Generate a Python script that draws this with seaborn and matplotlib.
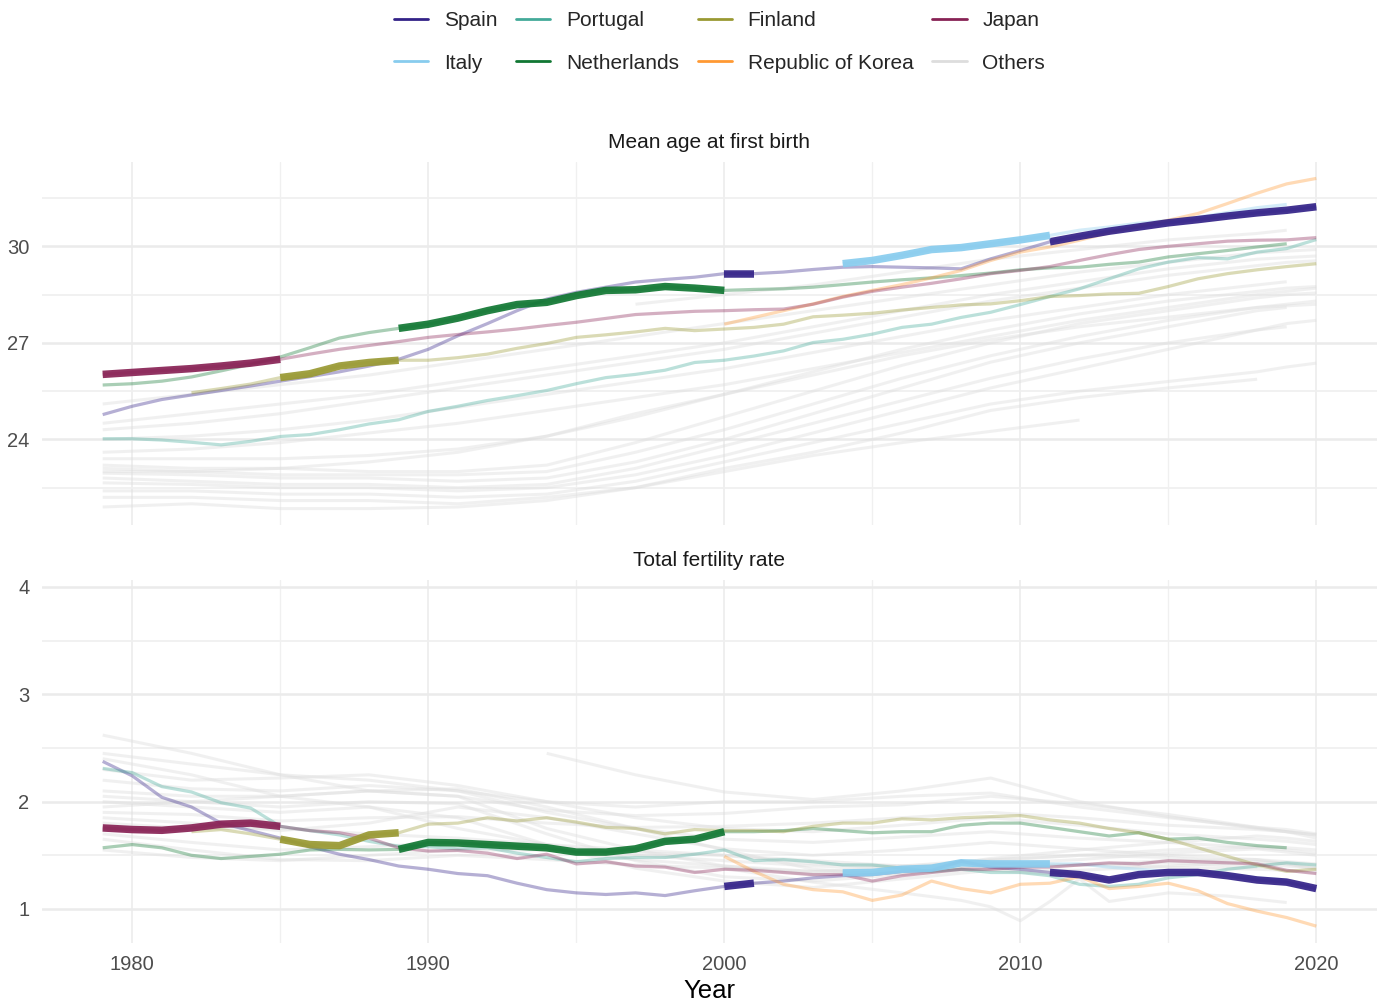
import numpy as np
import pandas as pd
import matplotlib
matplotlib.use("Agg")
import matplotlib.pyplot as plt
from matplotlib.lines import Line2D
import seaborn as sns

nan = np.nan

# ---------------------------------------------------------------- data
YEARS = list(range(1979, 2021))

SPAIN_AGE = [24.77, 25.03, 25.24, 25.38, 25.52, 25.66, 25.81, 25.95, 26.10, 26.28,
             26.49, 26.80, 27.22, 27.60, 28.00, 28.36, 28.57, 28.73, 28.89, 28.97,
             29.04, 29.15, 29.15, 29.20, 29.28, 29.35, 29.37, 29.35, 29.33, 29.30,
             29.61, 29.87, 30.14, 30.31, 30.47, 30.60, 30.73, 30.83, 30.94, 31.04,
             31.12, 31.23]
SPAIN_TFR = [2.375, 2.24, 2.04, 1.95, 1.80, 1.73, 1.66, 1.58, 1.51, 1.46,
             1.40, 1.37, 1.33, 1.31, 1.24, 1.18, 1.15, 1.135, 1.15, 1.125,
             1.17, 1.21, 1.24, 1.26, 1.29, 1.31, 1.32, 1.35, 1.36, 1.445,
             1.39, 1.37, 1.34, 1.32, 1.27, 1.32, 1.34, 1.34, 1.31, 1.27,
             1.25, 1.19]

JAPAN_AGE = [26.02, 26.08, 26.14, 26.20, 26.28, 26.37, 26.49, 26.65, 26.80, 26.92,
             27.04, 27.17, 27.26, 27.34, 27.43, 27.54, 27.64, 27.76, 27.88, 27.93,
             27.98, 28.00, 28.03, 28.05, 28.20, 28.42, 28.60, 28.73, 28.85, 28.99,
             29.15, 29.25, 29.37, 29.56, 29.74, 29.90, 30.00, 30.08, 30.16, 30.19,
             30.20, 30.27]
JAPAN_TFR = [1.755, 1.74, 1.733, 1.755, 1.79, 1.80, 1.77, 1.73, 1.71, 1.66,
             1.57, 1.54, 1.545, 1.52, 1.47, 1.51, 1.42, 1.44, 1.40, 1.39,
             1.34, 1.37, 1.36, 1.34, 1.32, 1.32, 1.26, 1.31, 1.34, 1.37,
             1.37, 1.39, 1.39, 1.41, 1.43, 1.42, 1.45, 1.44, 1.43, 1.42,
             1.36, 1.33]

NETHERLANDS_AGE = [25.69, 25.73, 25.81, 25.94, 26.13, 26.33, 26.56, 26.85, 27.15, 27.32,
                   27.45, 27.58, 27.77, 28.00, 28.19, 28.26, 28.47, 28.63, 28.65, 28.75,
                   28.70, 28.63, 28.66, 28.68, 28.73, 28.81, 28.89, 28.96, 29.02, 29.09,
                   29.17, 29.27, 29.33, 29.35, 29.44, 29.51, 29.67, 29.77, 29.87, 29.98,
                   30.08, nan]
NETHERLANDS_TFR = [1.57, 1.60, 1.57, 1.50, 1.47, 1.49, 1.51, 1.55, 1.555, 1.55,
                   1.555, 1.62, 1.615, 1.60, 1.585, 1.57, 1.53, 1.53, 1.56, 1.63,
                   1.65, 1.72, 1.72, 1.73, 1.75, 1.73, 1.71, 1.72, 1.72, 1.78,
                   1.80, 1.80, 1.76, 1.72, 1.68, 1.71, 1.65, 1.66, 1.62, 1.59,
                   1.57, nan]

FINLAND_AGE = [nan, nan, nan, 25.45, 25.58, 25.72, 25.92, 26.04, 26.28, 26.39,
               26.46, 26.46, 26.54, 26.65, 26.83, 26.98, 27.17, 27.25, 27.34, 27.45,
               27.38, 27.43, 27.48, 27.58, 27.81, 27.86, 27.92, 28.02, 28.10, 28.18,
               28.21, 28.31, 28.44, 28.47, 28.52, 28.54, 28.75, 28.99, 29.15, 29.27,
               29.37, 29.46]
FINLAND_TFR = [nan, nan, nan, 1.72, 1.74, 1.70, 1.65, 1.60, 1.59, 1.69,
               1.71, 1.79, 1.80, 1.85, 1.82, 1.85, 1.81, 1.76, 1.75, 1.70,
               1.74, 1.73, 1.73, 1.72, 1.77, 1.80, 1.80, 1.84, 1.83, 1.85,
               1.86, 1.87, 1.83, 1.80, 1.75, 1.71, 1.65, 1.57, 1.49, 1.41,
               1.35, 1.37]

PORTUGAL_AGE = [24.02, 24.02, 23.98, 23.91, 23.83, 23.94, 24.09, 24.15, 24.30, 24.48,
                24.61, 24.87, 25.03, 25.21, 25.36, 25.52, 25.73, 25.92, 26.02, 26.15,
                26.39, 26.46, 26.59, 26.75, 27.01, 27.11, 27.27, 27.48, 27.58, 27.79,
                27.95, 28.19, 28.44, 28.68, 28.99, 29.30, 29.51, 29.65, 29.61, 29.82,
                29.93, 30.21]
PORTUGAL_TFR = [2.31, 2.27, 2.14, 2.09, 1.99, 1.94, 1.77, 1.73, 1.69, 1.63,
                1.585, 1.58, 1.56, 1.57, 1.52, 1.48, 1.44, 1.47, 1.48, 1.48,
                1.51, 1.55, 1.45, 1.46, 1.44, 1.41, 1.41, 1.38, 1.35, 1.37,
                1.34, 1.34, 1.31, 1.23, 1.21, 1.23, 1.29, 1.32, 1.37, 1.40,
                1.43, 1.41]

ITALY_AGE = [nan] * 25 + [29.46, 29.56, 29.72, 29.90, 29.96, 30.08, 30.20, 30.34,
                          30.50, 30.60, 30.72, 30.80, 30.90, 31.05, 31.20, 31.30, nan]
ITALY_TFR = [nan] * 25 + [1.336, 1.34, 1.37, 1.38, 1.43, 1.42, 1.42, 1.42,
                          1.42, 1.39, 1.37, 1.35, 1.34, 1.32, 1.29, 1.27, nan]

KOREA_AGE = [nan] * 21 + [27.58, 27.79, 28.00, 28.21, 28.44, 28.63, 28.81, 29.02, 29.25,
                          29.56, 29.82, 29.98, 30.19, 30.42, 30.63, 30.81, 31.02, 31.33,
                          31.65, 31.94, 32.11]
KOREA_TFR = [nan] * 21 + [1.49, 1.35, 1.23, 1.18, 1.16, 1.08, 1.13, 1.26, 1.19,
                          1.15, 1.23, 1.24, 1.30, 1.19, 1.21, 1.24, 1.17, 1.05,
                          0.98, 0.92, 0.84]

# country -> (mean age at first birth, total fertility rate)
HIGHLIGHT = {
    "Spain": (SPAIN_AGE, SPAIN_TFR),
    "Italy": (ITALY_AGE, ITALY_TFR),
    "Portugal": (PORTUGAL_AGE, PORTUGAL_TFR),
    "Netherlands": (NETHERLANDS_AGE, NETHERLANDS_TFR),
    "Finland": (FINLAND_AGE, FINLAND_TFR),
    "Republic of Korea": (KOREA_AGE, KOREA_TFR),
    "Japan": (JAPAN_AGE, JAPAN_TFR),
}

# years in which a country held the highest mean age at first birth
RECORD_SPANS = [("Japan", 1979, 1985), ("Finland", 1985, 1989),
                ("Netherlands", 1989, 2000), ("Spain", 2000, 2001),
                ("Italy", 2004, 2011), ("Spain", 2011, 2020)]

# remaining countries, sampled every few years
OTHER_YEARS = [1979, 1982, 1985, 1988, 1991, 1994, 1997, 2000, 2003, 2006,
               2009, 2012, 2015, 2018, 2019, 2020]

OTHERS_AGE = [
    [nan, nan, nan, nan, nan, nan, 28.2, 28.5, 28.8, 29.2, 29.6, 29.9, 30.2, 30.4, 30.5, nan],
    [25.1, 25.4, 25.7, 26.0, 26.4, 26.8, 27.2, 27.6, 28.0, 28.4, 28.8, 29.2, 29.5, 29.8, 29.85, 29.9],
    [24.5, 24.8, 25.1, 25.4, 25.8, 26.2, 26.6, 27.0, 27.5, 28.0, 28.5, 28.9, 29.3, 29.6, 29.65, 29.7],
    [24.3, 24.5, 24.8, 25.2, 25.6, 26.0, 26.4, 26.8, 27.3, 27.8, 28.3, 28.7, 29.1, 29.4, 29.5, 29.55],
    [24.0, 24.1, 24.3, 24.6, 25.0, 25.4, 25.8, 26.2, 26.7, 27.2, 27.7, 28.1, 28.5, 28.8, 28.9, nan],
    [23.6, 23.7, 23.9, 24.2, 24.5, 24.9, 25.3, 25.7, 26.2, 26.7, 27.2, 27.7, 28.1, 28.5, 28.6, 28.7],
    [23.4, 23.4, 23.4, 23.5, 23.7, 24.1, 24.8, 25.4, 26.1, 26.8, 27.4, 27.9, 28.3, 28.6, 28.7, 28.75],
    [23.2, 23.1, 23.1, 23.0, 23.0, 23.2, 23.9, 24.7, 25.5, 26.3, 27.0, 27.6, 28.0, 28.4, 28.5, 28.55],
    [23.1, 23.0, 22.9, 22.9, 22.9, 23.0, 23.6, 24.3, 25.1, 25.9, 26.6, 27.2, 27.7, 28.1, 28.15, 28.2],
    [22.95, 22.9, 22.8, 22.8, 22.7, 22.8, 23.3, 24.0, 24.8, 25.6, 26.4, 27.0, 27.5, 28.0, 28.1, nan],
    [22.8, 22.7, 22.6, 22.6, 22.5, 22.6, 23.1, 23.8, 24.5, 25.2, 25.9, 26.5, 27.0, 27.4, 27.5, nan],
    [22.65, 22.6, 22.5, 22.5, 22.4, 22.5, 22.9, 23.5, 24.2, 24.9, 25.6, 26.2, 26.8, 27.4, 27.6, 27.7],
    [22.4, 22.4, 22.3, 22.3, 22.2, 22.3, 22.7, 23.3, 23.9, 24.5, 25.1, 25.5, 25.8, 26.1, 26.25, 26.37],
    [22.2, 22.2, 22.1, 22.1, 22.0, 22.2, 22.5, 23.1, 23.6, 24.2, 24.9, 25.3, 25.6, 25.87, nan, nan],
    [21.9, 22.0, 21.85, 21.85, 21.9, 22.1, 22.5, 23.0, 23.5, 23.9, 24.25, 24.6, nan, nan, nan, nan],
    [23.0, 23.0, 23.1, 23.3, 23.6, 24.1, 24.7, 25.4, 26.0, 26.6, 27.1, 27.5, 27.8, 28.1, 28.2, 28.3],
]

OTHERS_TFR = [
    [nan, nan, nan, nan, nan, 2.45, 2.25, 2.09, 2.02, 2.10, 2.22, 2.00, 1.86, 1.75, 1.72, 1.69],
    [2.62, 2.45, 2.25, 2.10, 2.05, 1.92, 1.87, 1.89, 1.95, 1.97, 2.05, 1.98, 1.88, 1.76, 1.72, 1.66],
    [2.45, 2.35, 2.25, 2.20, 2.10, 2.00, 1.95, 2.00, 2.00, 2.05, 2.08, 1.95, 1.85, 1.76, 1.74, 1.70],
    [2.30, 2.20, 2.22, 2.25, 2.15, 2.00, 1.85, 1.75, 1.72, 1.78, 1.85, 1.78, 1.70, 1.65, 1.63, 1.60],
    [2.20, 2.12, 2.10, 2.15, 2.10, 1.90, 1.75, 1.65, 1.62, 1.67, 1.72, 1.66, 1.62, 1.57, 1.55, 1.52],
    [2.10, 2.05, 2.05, 2.10, 2.05, 1.75, 1.55, 1.40, 1.32, 1.36, 1.47, 1.55, 1.62, 1.68, 1.66, 1.63],
    [2.05, 2.00, 1.95, 2.00, 1.98, 1.70, 1.45, 1.30, 1.26, 1.32, 1.42, 1.46, 1.52, 1.56, 1.53, 1.50],
    [2.00, 1.95, 1.90, 1.95, 1.85, 1.60, 1.38, 1.26, 1.20, 1.28, 1.36, 1.36, 1.40, 1.44, 1.42, 1.39],
    [1.95, 2.00, 2.05, 2.10, 2.12, 1.95, 1.75, 1.55, 1.37, 1.32, 1.38, 1.41, 1.45, 1.46, 1.42, 1.37],
    [1.90, 1.88, 1.82, 1.85, 1.86, 1.80, 1.76, 1.77, 1.80, 1.85, 1.90, 1.85, 1.78, 1.74, 1.72, 1.69],
    [1.85, 1.80, 1.73, 1.80, 1.95, 1.85, 1.70, 1.56, 1.50, 1.55, 1.62, 1.56, 1.50, 1.46, 1.44, 1.42],
    [1.80, 1.75, 1.75, 1.70, 1.66, 1.60, 1.55, 1.50, 1.42, 1.40, 1.43, 1.41, 1.39, 1.37, 1.36, 1.34],
    [1.70, 1.62, 1.55, 1.58, 1.62, 1.55, 1.46, 1.40, 1.35, 1.34, 1.39, 1.41, 1.43, 1.39, nan, nan],
    [1.65, 1.55, 1.46, 1.45, 1.50, 1.46, 1.41, 1.38, 1.35, 1.40, 1.46, 1.50, 1.55, 1.58, 1.57, 1.55],
    [1.55, 1.48, 1.45, 1.50, 1.55, 1.55, 1.52, 1.50, 1.45, 1.40, 1.36, 1.31, nan, nan, nan, nan],
    [2.40, 2.25, 2.05, 1.95, 1.75, 1.60, 1.50, 1.45, 1.40, 1.38, 1.45, 1.50, 1.48, 1.42, 1.40, 1.38],
]

# one more country with a fertility series only, reported yearly
EXTRA_TFR_YEARS = [2000, 2003, 2006, 2008, 2009, 2010, 2011, 2012, 2013, 2015, 2017, 2019]
EXTRA_TFR = [1.38, 1.25, 1.15, 1.08, 1.02, 0.89, 1.07, 1.28, 1.07, 1.15, 1.12, 1.06]

PALETTE = {
    "Spain": "#332288",
    "Italy": "#88CCEE",
    "Portugal": "#44AA99",
    "Netherlands": "#117733",
    "Finland": "#999933",
    "Republic of Korea": "#FF9933",
    "Japan": "#882255",
    "Others": "#DDDDDD",
}
LEGEND_ORDER = ["Spain", "Italy", "Portugal", "Netherlands",
                "Finland", "Republic of Korea", "Japan", "Others"]

METRICS = ["Mean age at first birth", "Total fertility rate"]

# ---------------------------------------------------------------- tidy tables
rows = []
for country, series in HIGHLIGHT.items():
    for metric, values in zip(METRICS, series):
        for yr, v in zip(YEARS, values):
            if not np.isnan(v):
                rows.append((country, metric, yr, v))
highlight_df = pd.DataFrame(rows, columns=["country", "metric", "year", "value"])

seg_rows = []
for k, (country, start, end) in enumerate(RECORD_SPANS):
    part = highlight_df[(highlight_df.country == country)
                        & highlight_df.year.between(start, end)].copy()
    part["segment"] = k
    seg_rows.append(part)
record_df = pd.concat(seg_rows, ignore_index=True)

rows = []
for metric, table in zip(METRICS, [OTHERS_AGE, OTHERS_TFR]):
    for i, values in enumerate(table):
        for yr, v in zip(OTHER_YEARS, values):
            if not np.isnan(v):
                rows.append((f"other{i}", metric, yr, v))
for yr, v in zip(EXTRA_TFR_YEARS, EXTRA_TFR):
    rows.append(("other_extra", METRICS[1], yr, v))
others_df = pd.DataFrame(rows, columns=["unit", "metric", "year", "value"])

# ---------------------------------------------------------------- figure
sns.set_theme(style="white")
plt.rcParams["font.family"] = ["Liberation Sans", "DejaVu Sans"]

W, H = 1386, 1008
fig = plt.figure(figsize=(W / 100, H / 100), dpi=100)
fig.patch.set_facecolor("white")

left, right = 42, 1377
panels = {
    METRICS[0]: dict(top=162, bottom=525, ylim=(21.34, 32.62),
                     major=[24, 27, 30], minor=[22.5, 25.5, 28.5, 31.5]),
    METRICS[1]: dict(top=580, bottom=943, ylim=(0.683, 4.065),
                     major=[1, 2, 3, 4], minor=[1.5, 2.5, 3.5]),
}

axes = []
for metric in METRICS:
    p = panels[metric]
    ax = fig.add_axes([left / W, 1 - p["bottom"] / H,
                       (right - left) / W, (p["bottom"] - p["top"]) / H])
    axes.append(ax)
    ax.set_facecolor("white")
    for s in ax.spines.values():
        s.set_visible(False)

    ax.set_xlim(1976.95, 2022.05)
    ax.set_ylim(*p["ylim"])
    ax.set_xticks([1980, 1990, 2000, 2010, 2020])
    ax.set_xticks([1985, 1995, 2005, 2015], minor=True)
    ax.set_yticks(p["major"])
    ax.set_yticks(p["minor"], minor=True)
    ax.grid(which="major", axis="y", color="#EBEBEB", lw=1.8, zorder=0)
    ax.grid(which="minor", axis="y", color="#F0F0F0", lw=1.3, zorder=0)
    ax.grid(which="major", axis="x", color="#EBEBEB", lw=1.1, zorder=0)
    ax.grid(which="minor", axis="x", color="#F0F0F0", lw=1.0, zorder=0)
    ax.set_axisbelow(True)
    ax.tick_params(which="both", length=0, labelsize=14.5, labelcolor="#4D4D4D", pad=9)

    sub_o = others_df[others_df.metric == metric]
    sns.lineplot(data=sub_o, x="year", y="value", units="unit", estimator=None,
                 color=PALETTE["Others"], alpha=0.42, lw=2.2, legend=False, ax=ax,
                 solid_capstyle="butt")

    sub_h = highlight_df[highlight_df.metric == metric]
    sns.lineplot(data=sub_h, x="year", y="value", hue="country", units="country",
                 estimator=None, palette=PALETTE, alpha=0.36, lw=2.3, legend=False,
                 ax=ax, solid_capstyle="butt")

    sub_r = record_df[record_df.metric == metric]
    sns.lineplot(data=sub_r, x="year", y="value", hue="country", units="segment",
                 estimator=None, palette=PALETTE, alpha=0.92, lw=5.4, legend=False,
                 ax=ax, solid_capstyle="butt")

    ax.set_xlabel("")
    ax.set_ylabel("")
    fig.text((left + right) / 2 / W, 1 - (p["top"] - 20) / H, metric,
             ha="center", va="center", fontsize=15, color="#1A1A1A")

axes[0].tick_params(labelbottom=False)
axes[1].set_xlabel("Year", fontsize=18.5, color="black", labelpad=3)

handles = [Line2D([0], [0], color=PALETTE[c], lw=2.0) for c in LEGEND_ORDER]
fig.legend(handles, LEGEND_ORDER, loc="upper center", bbox_to_anchor=(0.519, 0.995),
           ncol=4, frameon=False, fontsize=15, handlelength=1.65,
           handletextpad=0.75, columnspacing=0.9, labelspacing=1.12,
           borderaxespad=0.2, borderpad=0.1)

fig.savefig("out.png", dpi=100, facecolor="white")
